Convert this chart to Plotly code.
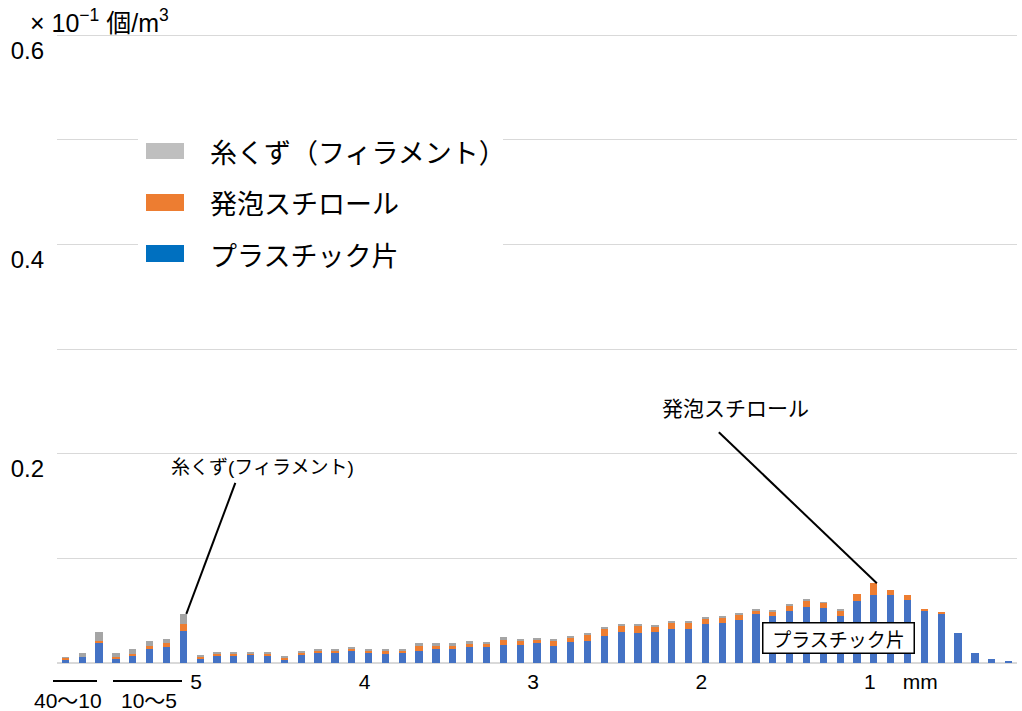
import plotly.graph_objects as go

# Size classes (mm): 40-10 and 10-5 groups, then 0.1 mm steps from 5.0 down to 0.2
size_bins = ["40〜30", "30〜20", "20〜10",
             "10〜9", "9〜8", "8〜7", "7〜6", "6〜5"] + \
            [f"{(50 - i) / 10:.1f} mm" for i in range(49)]

# Concentration (×10^-1 個/m3) per size class
plastic = [0.0038, 0.0057, 0.0188, 0.0045, 0.0067, 0.0131, 0.0156, 0.0306,
           0.0041, 0.0064, 0.0064, 0.0083, 0.0064, 0.0038, 0.0083, 0.0093,
           0.0105, 0.0115, 0.0105, 0.0083, 0.0093, 0.0115, 0.0131, 0.0131,
           0.0156, 0.0150, 0.0172, 0.0172, 0.0188, 0.0163, 0.0198, 0.0213,
           0.0261, 0.0300, 0.0290, 0.0300, 0.0325, 0.0325, 0.0376, 0.0386,
           0.0415, 0.0466, 0.0447, 0.0500, 0.0539, 0.0526, 0.0447, 0.0588,
           0.0652, 0.0650, 0.0598, 0.0504, 0.0469, 0.0285, 0.0097, 0.0034,
           0.0012]
styrofoam = [0.0010, 0.0000, 0.0022, 0.0016, 0.0016, 0.0029, 0.0038, 0.0064,
             0.0019, 0.0026, 0.0026, 0.0010, 0.0026, 0.0019, 0.0016, 0.0029,
             0.0016, 0.0022, 0.0016, 0.0035, 0.0026, 0.0054, 0.0038, 0.0038,
             0.0035, 0.0041, 0.0051, 0.0045, 0.0038, 0.0054, 0.0041, 0.0064,
             0.0067, 0.0051, 0.0064, 0.0051, 0.0064, 0.0064, 0.0051, 0.0051,
             0.0051, 0.0038, 0.0041, 0.0054, 0.0054, 0.0048, 0.0057, 0.0075,
             0.0110, 0.0050, 0.0055, 0.0013, 0.0013, 0.0000, 0.0000, 0.0000,
             0.0000]
filament = [0.0009, 0.0039, 0.0083, 0.0035, 0.0047, 0.0047, 0.0039, 0.0099,
            0.0010, 0.0006, 0.0006, 0.0006, 0.0006, 0.0010, 0.0010, 0.0010,
            0.0010, 0.0013, 0.0010, 0.0013, 0.0013, 0.0019, 0.0019, 0.0019,
            0.0016, 0.0010, 0.0029, 0.0010, 0.0013, 0.0010, 0.0013, 0.0013,
            0.0013, 0.0026, 0.0010, 0.0010, 0.0013, 0.0013, 0.0013, 0.0010,
            0.0013, 0.0010, 0.0013, 0.0010, 0.0010, 0.0007, 0.0010, 0.0000,
            0.0000, 0.0000, 0.0000, 0.0000, 0.0000, 0.0000, 0.0000, 0.0000,
            0.0000]

series_names = ["プラスチック片", "発泡スチロール", "糸くず（フィラメント）"]
bar_colors = ["#4472C4", "#ED7D31", "#A5A5A5"]
key_colors = ["#0070C0", "#ED7D31", "#BFBFBF"]

x_tick_vals = ["5.0 mm", "4.0 mm", "3.0 mm", "2.0 mm", "1.0 mm", "0.7 mm"]
x_tick_text = ["5", "4", "3", "2", "1", "mm"]
y_tick_vals = [0.2, 0.4, 0.6]
y_tick_text = ["0.2", "0.4", "0.6"]
Y_GRID_STEP = 0.1
Y_MAX = 0.603

WIDTH, HEIGHT = 1022, 711
ML, MR, MT, MB = 57, 5, 32, 48
PW, PH = WIDTH - ML - MR, HEIGHT - MT - MB

LATIN = "Liberation Sans, Arial, Noto Sans CJK JP"
CJK = "Noto Sans CJK JP, Liberation Sans"


def fx(px):
    return (px - ML) / PW


def fy(py):
    return (HEIGHT - MB - py) / PH


totals = [a + b + c for a, b, c in zip(plastic, styrofoam, filament)]

fig = go.Figure()
for name, vals, col in zip(series_names, [plastic, styrofoam, filament], bar_colors):
    fig.add_trace(go.Bar(x=size_bins, y=vals, name=name, marker_color=col,
                         marker_line_width=0, showlegend=False))

shapes = []
annotations = []

# key panel (white block over the grid) with swatches and labels
shapes.append(dict(type="rect", xref="paper", yref="paper",
                   x0=fx(138), x1=fx(503), y0=fy(288), y1=fy(118),
                   fillcolor="white", line_width=0, layer="above"))
key_rows = [(143, 159, 151), (194, 211, 203), (245, 262, 255)]
key_order = [2, 1, 0]
for (top, bot, mid), k in zip(key_rows, key_order):
    shapes.append(dict(type="rect", xref="paper", yref="paper",
                       x0=fx(146), x1=fx(184), y0=fy(bot), y1=fy(top),
                       fillcolor=key_colors[k], line_width=0, layer="above"))
    annotations.append(dict(xref="paper", yref="paper", x=fx(208), y=fy(mid),
                            xanchor="left", yanchor="middle", showarrow=False,
                            text=series_names[k],
                            font=dict(family=CJK, size=27, color="black")))

# unit label
annotations.append(dict(xref="paper", yref="paper", x=fx(28), y=fy(21),
                        xanchor="left", yanchor="middle", showarrow=False,
                        text="× 10<sup>−1</sup> 個/m<sup>3</sup>",
                        font=dict(family=LATIN, size=25, color="black")))

# group labels for the coarse size classes
for label, cx, x0, x1 in [("40〜10", 67.5, 53, 97), ("10〜5", 148.7, 113, 182)]:
    annotations.append(dict(xref="paper", yref="paper", x=fx(cx), y=fy(700.5),
                            xanchor="center", yanchor="middle", showarrow=False,
                            text=label, font=dict(family=LATIN, size=21, color="black")))
    shapes.append(dict(type="line", xref="paper", yref="paper",
                       x0=fx(x0), x1=fx(x1), y0=fy(681), y1=fy(681),
                       line=dict(color="black", width=2)))

# callout: filament peak in the 6-5 mm class
i_fil = 7
shapes.append(dict(type="line", xref="x", yref="y",
                   xsizemode="pixel", xanchor=i_fil, x0=3, x1=52,
                   ysizemode="pixel", yanchor=totals[i_fil], y0=0, y1=131,
                   line=dict(color="black", width=2)))
annotations.append(dict(x=i_fil, y=totals[i_fil], showarrow=False,
                        xshift=79, yshift=146, text="糸くず(フィラメント)",
                        font=dict(family=LATIN, size=19, color="black")))

# callout: styrofoam peak near 1 mm
i_sty = 48
shapes.append(dict(type="line", xref="x", yref="y",
                   xsizemode="pixel", xanchor=i_sty, x0=3, x1=-155,
                   ysizemode="pixel", yanchor=totals[i_sty], y0=0, y1=151,
                   line=dict(color="black", width=2)))
annotations.append(dict(x=i_sty, y=totals[i_sty], showarrow=False,
                        xshift=-138, yshift=176, text="発泡スチロール",
                        font=dict(family=CJK, size=21, color="black")))

# boxed label for plastic fragments
annotations.append(dict(x=46, y=0, showarrow=False, xshift=-2, yshift=25,
                        text="プラスチック片", bgcolor="white", bordercolor="black",
                        borderwidth=1.5, borderpad=2, width=146, height=25,
                        font=dict(family=CJK, size=19, color="black")))

fig.update_layout(
    width=WIDTH, height=HEIGHT,
    margin=dict(l=ML, r=MR, t=MT, b=MB, pad=0),
    paper_bgcolor="white", plot_bgcolor="white",
    barmode="stack", bargap=0.57,
    shapes=shapes, annotations=annotations,
    font=dict(family=LATIN, color="black"),
)
fig.update_xaxes(type="category", categoryorder="array", categoryarray=size_bins,
                 range=[-0.5, len(size_bins) - 0.5],
                 tickmode="array", tickvals=x_tick_vals, ticktext=x_tick_text,
                 ticks="", showgrid=False, showline=False, zeroline=False,
                 tickfont=dict(family=LATIN, size=21, color="black"),
                 ticklabelshift=-4, ticklabelstandoff=4)
fig.update_yaxes(range=[0, Y_MAX], tickmode="array", tickvals=y_tick_vals,
                 ticktext=y_tick_text, ticks="", showline=False,
                 showgrid=True, gridcolor="#D9D9D9", gridwidth=1,
                 minor=dict(tick0=0, dtick=Y_GRID_STEP, showgrid=True,
                            gridcolor="#D9D9D9", gridwidth=1, ticks=""),
                 zeroline=True, zerolinecolor="#D9D9D9", zerolinewidth=2,
                 tickfont=dict(family=LATIN, size=24, color="black"),
                 ticklabelshift=15, ticklabelstandoff=12)

fig.write_html("out.html")
